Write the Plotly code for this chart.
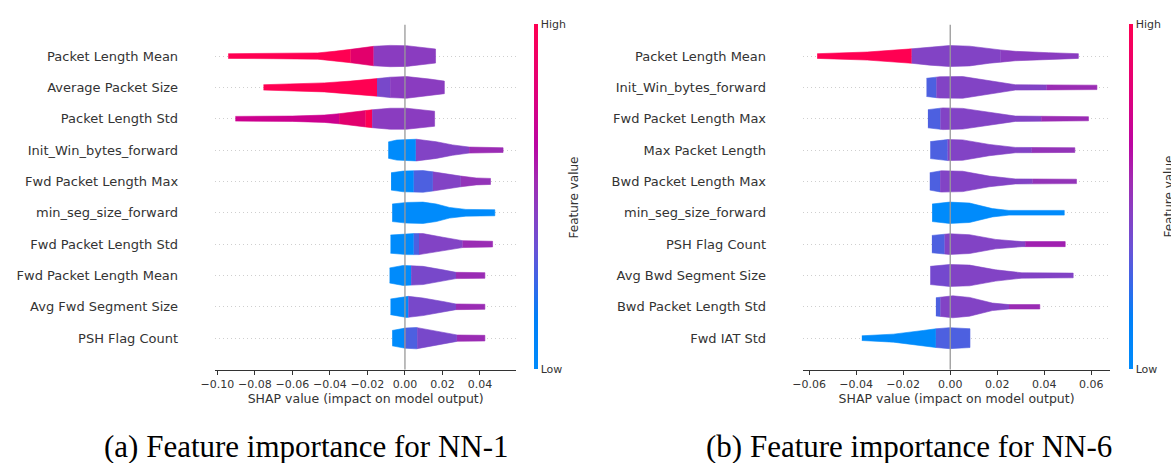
import numpy as np
import plotly.graph_objects as go

# ---------------- colours (SHAP red-blue map) ----------------
RED = "#ff0052"
CRIMSON = "#e2006c"
MAGENTA = "#cc008e"
PURPLE = "#8a3cc0"
PURPLE2 = "#8243c5"
VIOLET = "#7848ca"
MAGPURPLE = "#9a2cb4"
MAGPURPLE2 = "#9334b8"
MAGENTA2 = "#a020b0"
BLUEVIOLET = "#4d60e0"
BLUE = "#008bfb"

CB_STOPS = [0.0, 0.15, 0.25, 0.35, 0.45, 0.55, 0.65, 0.8, 1.0]
CB_COLORS = ["#008bfb", "#0080f8", "#3a66e8", "#6a52d6", "#8740c4",
             "#a22ab2", "#bb05a2", "#e0007a", "#ff0052"]

# ---------------- NN-1 ----------------
NN1_FEATURES = ["Packet Length Mean", "Average Packet Size", "Packet Length Std",
                "Init_Win_bytes_forward", "Fwd Packet Length Max", "min_seg_size_forward",
                "Fwd Packet Length Std", "Fwd Packet Length Mean", "Avg Fwd Segment Size",
                "PSH Flag Count"]
NN1_X = [
    [-0.0942, -0.07, -0.0465, -0.0377, -0.0289, -0.0167, -0.0079, 0.0009, 0.0096, 0.0163],
    [-0.0754, -0.043, -0.029, -0.0149, -0.0079, 0.0009, 0.0132, 0.021],
    [-0.0904, -0.06, -0.043, -0.0351, -0.0184, -0.0079, 0.0009, 0.0158],
    [-0.0089, -0.0044, 0.0061, 0.0167, 0.0254, 0.0342, 0.0523],
    [-0.0074, -0.0009, 0.0096, 0.0202, 0.0298, 0.038, 0.0456],
    [-0.0068, 0.0009, 0.0096, 0.0167, 0.0237, 0.0325, 0.0479],
    [-0.0077, 0.0009, 0.0096, 0.0202, 0.0307, 0.0467],
    [-0.0082, -0.0009, 0.0096, 0.0202, 0.0272, 0.0426],
    [-0.0077, 0.0009, 0.0096, 0.0202, 0.0272, 0.0426],
    [-0.0068, 0.0, 0.0061, 0.0167, 0.028, 0.0426],
]
NN1_W = [
    [0.075, 0.085, 0.1, 0.15, 0.213, 0.31, 0.34, 0.33, 0.277, 0.224],
    [0.085, 0.144, 0.2, 0.28, 0.325, 0.346, 0.266, 0.2],
    [0.075, 0.085, 0.117, 0.16, 0.28, 0.335, 0.335, 0.24],
    [0.26, 0.32, 0.346, 0.266, 0.165, 0.096, 0.075],
    [0.277, 0.33, 0.346, 0.266, 0.17, 0.11, 0.096],
    [0.28, 0.33, 0.34, 0.28, 0.17, 0.107, 0.096],
    [0.29, 0.335, 0.335, 0.22, 0.11, 0.09],
    [0.24, 0.32, 0.29, 0.18, 0.1, 0.09],
    [0.25, 0.34, 0.28, 0.17, 0.09, 0.08],
    [0.245, 0.32, 0.34, 0.22, 0.1, 0.09],
]
NN1_BREAKS = [
    [-0.0942, -0.0289, -0.0167, 0.0163],
    [-0.0754, -0.0149, -0.0079, 0.021],
    [-0.0904, -0.0351, -0.021, -0.0175, 0.0158],
    [-0.0089, 0.0058, 0.0342, 0.0523],
    [-0.0074, 0.0047, 0.0149, 0.0298, 0.0456],
    [-0.0068, 0.0479],
    [-0.0077, 0.0047, 0.0075, 0.0307, 0.0467],
    [-0.0082, 0.0033, 0.0272, 0.0426],
    [-0.0077, 0.0018, 0.0272, 0.0426],
    [-0.0068, -0.0005, 0.0065, 0.0277, 0.0426],
]
NN1_COLORS = [
    [RED, CRIMSON, PURPLE],
    [RED, VIOLET, PURPLE],
    [MAGENTA, CRIMSON, RED, PURPLE],
    [BLUE, PURPLE2, MAGPURPLE],
    [BLUE, BLUEVIOLET, PURPLE2, MAGPURPLE2],
    [BLUE],
    [BLUE, BLUEVIOLET, PURPLE2, MAGPURPLE],
    [BLUE, VIOLET, MAGPURPLE],
    [BLUE, VIOLET, MAGPURPLE],
    [BLUE, BLUEVIOLET, VIOLET, MAGPURPLE],
]

# ---------------- NN-6 ----------------
NN6_FEATURES = ["Packet Length Mean", "Init_Win_bytes_forward", "Fwd Packet Length Max",
                "Max Packet Length", "Bwd Packet Length Max", "min_seg_size_forward",
                "PSH Flag Count", "Avg Bwd Segment Size", "Bwd Packet Length Std",
                "Fwd IAT Std"]
NN6_X = [
    [-0.0566, -0.0353, -0.0164, -0.0087, -0.0003, 0.0082, 0.0166, 0.0277, 0.0418, 0.0545],
    [-0.0101, -0.0045, 0.0053, 0.0166, 0.0277, 0.0624],
    [-0.0095, -0.0031, 0.0053, 0.0166, 0.0277, 0.0588],
    [-0.0085, -0.001, 0.0053, 0.0166, 0.0277, 0.053],
    [-0.0087, -0.0038, 0.0053, 0.0166, 0.0277, 0.0537],
    [-0.0077, -0.0003, 0.0082, 0.0179, 0.025, 0.0485],
    [-0.0078, -0.0003, 0.0082, 0.0193, 0.0305, 0.0489],
    [-0.0085, -0.0003, 0.0082, 0.0193, 0.0305, 0.0523],
    [-0.0061, 0.0011, 0.0082, 0.0179, 0.025, 0.0381],
    [-0.0376, -0.0241, -0.0115, -0.0059, -0.0003, 0.0084],
]
NN6_W = [
    [0.075, 0.128, 0.23, 0.29, 0.335, 0.315, 0.23, 0.15, 0.107, 0.075],
    [0.29, 0.34, 0.346, 0.224, 0.085, 0.07],
    [0.29, 0.346, 0.33, 0.21, 0.085, 0.065],
    [0.27, 0.335, 0.325, 0.18, 0.085, 0.075],
    [0.277, 0.34, 0.325, 0.17, 0.08, 0.07],
    [0.28, 0.34, 0.31, 0.133, 0.075, 0.075],
    [0.277, 0.33, 0.3, 0.15, 0.08, 0.08],
    [0.29, 0.35, 0.33, 0.18, 0.085, 0.075],
    [0.29, 0.35, 0.3, 0.12, 0.07, 0.07],
    [0.075, 0.128, 0.245, 0.3, 0.335, 0.3],
]
NN6_BREAKS = [
    [-0.0566, -0.0164, 0.0214, 0.0545],
    [-0.0101, -0.0059, 0.041, 0.0624],
    [-0.0095, -0.0042, 0.0387, 0.0588],
    [-0.0085, -0.0011, 0.0347, 0.053],
    [-0.0087, -0.0043, 0.035, 0.0537],
    [-0.0077, 0.0485],
    [-0.0078, -0.0024, 0.0319, 0.0489],
    [-0.0085, -0.0003, 0.0523],
    [-0.0061, -0.0042, 0.025, 0.0381],
    [-0.0376, -0.0061, 0.0084],
]
NN6_COLORS = [
    [RED, PURPLE2, PURPLE],
    [BLUEVIOLET, PURPLE2, MAGPURPLE],
    [BLUEVIOLET, PURPLE2, MAGPURPLE],
    [BLUEVIOLET, PURPLE2, MAGPURPLE2],
    [BLUEVIOLET, PURPLE2, MAGPURPLE2],
    [BLUE],
    [BLUEVIOLET, PURPLE2, MAGENTA2],
    ["#7448ce", PURPLE2],
    [BLUEVIOLET, PURPLE2, MAGPURPLE],
    [BLUE, BLUEVIOLET],
]

NN1_TICKS = [-0.10, -0.08, -0.06, -0.04, -0.02, 0.00, 0.02, 0.04]
NN6_TICKS = [-0.06, -0.04, -0.02, 0.00, 0.02, 0.04, 0.06]

FONT = "DejaVu Sans"
TXT = "#333333"

fig = go.Figure()


def add_panel(features, xs, ws, breaks, colors, xa, ya):
    n = len(features)
    for i in range(n):
        row = n - 1 - i
        kx = np.array(xs[i])
        kw = np.array(ws[i])
        br = breaks[i]
        for s in range(len(br) - 1):
            a, b = br[s], br[s + 1]
            inner = kx[(kx > a) & (kx < b)]
            px = np.concatenate([[a], inner, [b]])
            pw = np.interp(px, kx, kw)
            poly_x = np.concatenate([px, px[::-1]])
            poly_y = np.concatenate([row + pw, (row - pw)[::-1]])
            fig.add_trace(go.Scatter(
                x=poly_x, y=poly_y, mode="lines", fill="toself",
                fillcolor=colors[i][s], line=dict(color=colors[i][s], width=0.6),
                xaxis=xa, yaxis=ya, hoverinfo="skip", showlegend=False))


add_panel(NN1_FEATURES, NN1_X, NN1_W, NN1_BREAKS, NN1_COLORS, "x", "y")
add_panel(NN6_FEATURES, NN6_X, NN6_W, NN6_BREAKS, NN6_COLORS, "x2", "y2")

# colour bars (dummy traces)
for ax, ca in (("x", "coloraxis"), ("x2", "coloraxis2")):
    fig.add_trace(go.Scatter(
        x=[0, 0], y=[0, 0], mode="markers",
        marker=dict(color=[0, 1], coloraxis=ca, opacity=0, size=1),
        xaxis=ax, yaxis="y" if ax == "x" else "y2",
        hoverinfo="skip", showlegend=False))

W, H = 1171, 463


def px_x(p):
    return p / W


def px_y(p):
    return (H - p) / H


scale = [[s, c] for s, c in zip(CB_STOPS, CB_COLORS)]
cb_common = dict(thickness=4, thicknessmode="pixels", len=345, lenmode="pixels",
                 outlinewidth=0, tickvals=[0, 1], ticktext=["Low", "High"], ticks="",
                 tickfont=dict(family=FONT, size=11, color=TXT), xpad=0, ypad=0,
                 xanchor="left", yanchor="middle", y=px_y(196.5))

yaxis_common = dict(range=[-1, 10], domain=[px_y(369.5), px_y(24.7)],
                    tickvals=list(range(10)), showgrid=True, griddash="1px,3px",
                    gridcolor="#cfcfcf", gridwidth=1, zeroline=False, showline=False,
                    ticks="", ticklabelstandoff=36,
                    tickfont=dict(family=FONT, size=13, color=TXT), fixedrange=True)
xaxis_common = dict(showgrid=False, zeroline=False, showline=True, linecolor="#333333",
                    linewidth=1, ticks="outside", ticklen=4, tickcolor="#333333",
                    tickformat=".2f", tickfont=dict(family=FONT, size=11, color=TXT),
                    title=dict(text="SHAP value (impact on model output)",
                               font=dict(family=FONT, size=12.5, color=TXT), standoff=4))

fig.update_layout(
    width=W, height=H, margin=dict(l=0, r=0, t=0, b=0),
    paper_bgcolor="white", plot_bgcolor="white", showlegend=False,
    xaxis=dict(domain=[px_x(202.7), px_x(507.7)], range=[-0.1012, 0.0593],
               tickvals=NN1_TICKS, anchor="y", **xaxis_common),
    yaxis=dict(anchor="x", ticktext=NN1_FEATURES[::-1], **yaxis_common),
    xaxis2=dict(domain=[px_x(798.3), px_x(1109.3)], range=[-0.0626, 0.068],
                tickvals=NN6_TICKS, anchor="y2", **xaxis_common),
    yaxis2=dict(anchor="x2", ticktext=NN6_FEATURES[::-1], **yaxis_common),
    coloraxis=dict(colorscale=scale, cmin=0, cmax=1,
                   colorbar=dict(x=px_x(526), **cb_common)),
    coloraxis2=dict(colorscale=scale, cmin=0, cmax=1,
                    colorbar=dict(x=px_x(1128), **cb_common)),
)

# zero lines above the violins
for xr, yr in (("x", "y domain"), ("x2", "y2 domain")):
    fig.add_shape(type="line", xref=xr, yref=yr, x0=0, x1=0, y0=0, y1=1,
                  line=dict(color="#999999", width=1.3), layer="above")

ann = []
for xc in (566.7, 1168.5):
    ann.append(dict(text="Feature value", x=px_x(xc), y=px_y(197), xref="paper", yref="paper",
                    showarrow=False, textangle=-90, xanchor="center", yanchor="middle",
                    font=dict(family=FONT, size=12, color=TXT)))
for xc, txt in ((295, "(a) Feature importance for NN-1"), (906, "(b) Feature importance for NN-6")):
    ann.append(dict(text=txt, x=px_x(xc), y=px_y(446), xref="paper", yref="paper",
                    showarrow=False, xanchor="center", yanchor="middle",
                    font=dict(family="Liberation Serif", size=31, color="black")))
fig.update_layout(annotations=ann)

fig.write_html("out.html")
